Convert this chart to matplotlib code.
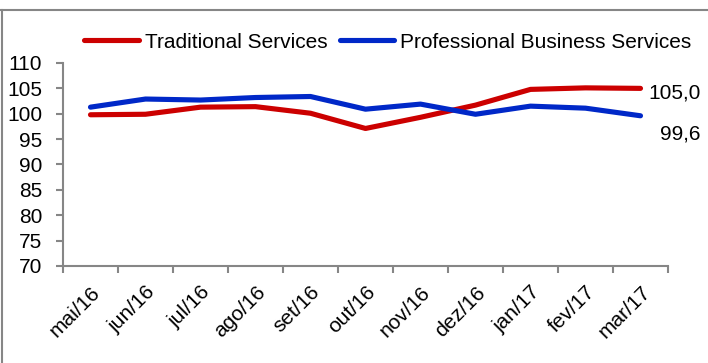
import matplotlib
matplotlib.use("Agg")
import matplotlib.pyplot as plt
from matplotlib.lines import Line2D

months = ['mai/16', 'jun/16', 'jul/16', 'ago/16', 'set/16', 'out/16',
          'nov/16', 'dez/16', 'jan/17', 'fev/17', 'mar/17']
traditional = [99.8, 99.9, 101.3, 101.4, 100.1, 97.1, 99.3, 101.7, 104.8, 105.1, 105.0]
professional = [101.3, 102.9, 102.7, 103.2, 103.4, 100.9, 101.9, 99.9, 101.5, 101.1, 99.6]
y_ticks = [70, 75, 80, 85, 90, 95, 100, 105, 110]

RED = '#CC0000'
BLUE = '#0028C8'
GREY = '#868686'
FS = 15

plt.rcParams['font.family'] = ['Liberation Sans', 'DejaVu Sans']
W, H = 708, 363
fig = plt.figure(figsize=(W / 100, H / 100), dpi=100)

# axes box in pixel coordinates
left, right, top, bottom = 63, 668, 63, 266
ax = fig.add_axes([left / W, (H - bottom) / H, (right - left) / W, (bottom - top) / H])

x = list(range(len(months)))
ax.plot(x, traditional, color=RED, lw=3.7, solid_capstyle='round', label='Traditional Services')
ax.plot(x, professional, color=BLUE, lw=3.7, solid_capstyle='round', label='Professional Business Services')

ax.set_xlim(-0.5, len(months) - 0.5)
ax.set_ylim(70, 110)
ax.set_yticks(y_ticks)
ax.set_yticklabels([str(v) for v in y_ticks], fontsize=FS)
ax.set_xticks(x)
ax.set_xticklabels(months, fontsize=FS, rotation=45, ha='right', va='top',
                   rotation_mode='anchor')
ax.set_xticks([i - 0.5 for i in range(len(months) + 1)], minor=True)
ax.tick_params(axis='x', which='major', length=0, pad=12)
ax.tick_params(axis='x', which='minor', length=5, width=1.5, color=GREY, direction='out')
ax.tick_params(axis='y', length=5, width=1.5, color=GREY, direction='out', pad=10)

for side in ['top', 'right']:
    ax.spines[side].set_visible(False)
for side in ['left', 'bottom']:
    ax.spines[side].set_color(GREY)
    ax.spines[side].set_linewidth(1.5)

# end-of-series value labels
ax.annotate(f"{traditional[-1]:.1f}".replace('.', ','), (x[-1], traditional[-1]),
            xytext=(60, -5), textcoords='offset pixels', ha='right', va='center', fontsize=FS)
ax.annotate(f"{professional[-1]:.1f}".replace('.', ','), (x[-1], professional[-1]),
            xytext=(60, -18), textcoords='offset pixels', ha='right', va='center', fontsize=FS)

handles = [Line2D([], [], color=RED, lw=3.7, solid_capstyle='round'),
           Line2D([], [], color=BLUE, lw=3.7, solid_capstyle='round')]
fig.legend(handles, ['Traditional Services', 'Professional Business Services'],
           loc='center', bbox_to_anchor=(388 / W, 1 - 42 / H), ncol=2, frameon=False,
           fontsize=FS, handlelength=2.6, handletextpad=0.3, columnspacing=0.6)

# outer frame lines (top and left)
fig.add_artist(Line2D([1 / W, 1], [1 - 10 / H, 1 - 10 / H], color=GREY, lw=1.5,
                      transform=fig.transFigure))
fig.add_artist(Line2D([1.5 / W, 1.5 / W], [0, 1 - 10 / H], color=GREY, lw=1.5,
                      transform=fig.transFigure))

fig.savefig('out.png', dpi=100, facecolor='white')
